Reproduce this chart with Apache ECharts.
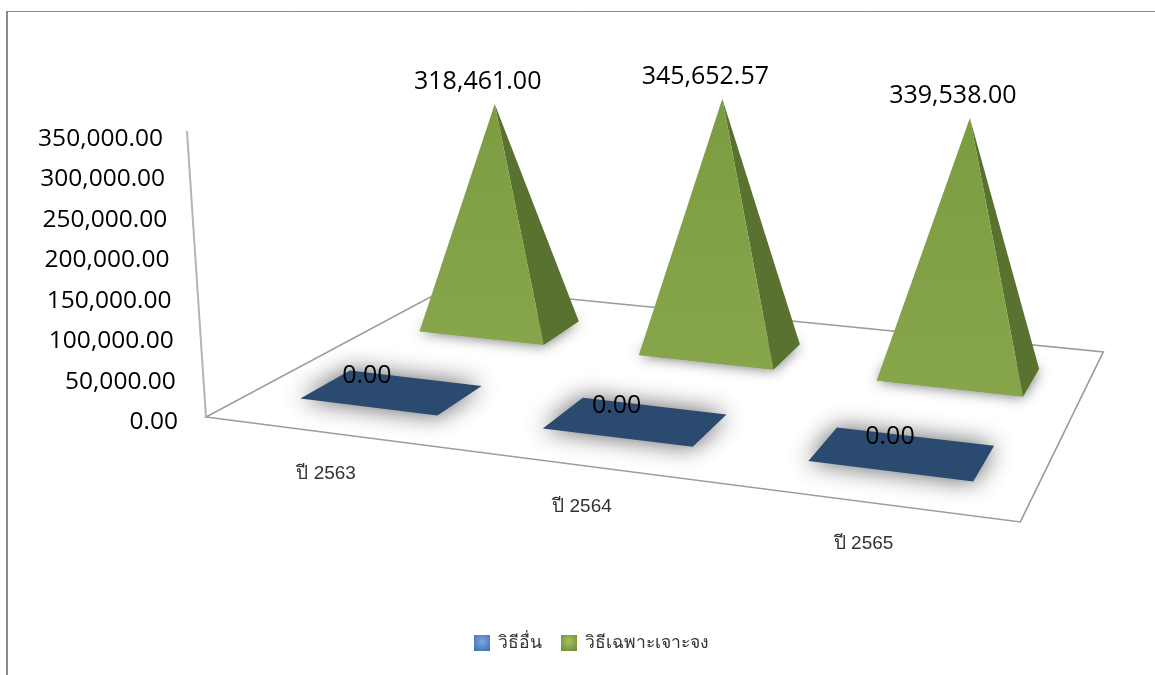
<!DOCTYPE html>
<html lang="th">
<head>
    <meta charset="UTF-8">
    <title>กราฟ</title>
    <style>
        html, body {margin: 0; padding: 0; background: #fff;}
        #main {width: 1155px; height: 675px;}
    </style>
</head>
<body>
<div id="main"></div>

<script src="https://cdn.jsdelivr.net/npm/echarts@6/dist/echarts.min.js"></script>
<script>
    var categories = ['ปี 2563', 'ปี 2564', 'ปี 2565'];
    var otherValues = [0, 0, 0];
    var specificValues = [318461, 345652.57, 339538];
    var yTicks = [0, 50000, 100000, 150000, 200000, 250000, 300000, 350000];
    var seriesNames = ['วิธีอื่น', 'วิธีเฉพาะเจาะจง'];

    var FONT = '"Open Sans", "Noto Sans", sans-serif';

    // พื้นกราฟแบบ perspective (u = แกน x, v = ความลึก)
    var floor = {a: 676.4, b: 360.6, c: 206, d: 34.4, e: -54.9, f: 417, g: -0.1352, h: 0.2618};

    function project(u, v, height) {
        var w = 1 + floor.g * u + floor.h * v;
        var x = (floor.a * u + floor.b * v + floor.c) / w;
        var y = (floor.d * u + floor.e * v + floor.f) / w;
        var up = (height || 0) / w;
        // เส้นแนวตั้งลู่เข้าหาจุดเดียวด้านล่าง
        return [x + (x - 662) * up / 6849, y - up];
    }

    function money(v) {
        return v.toLocaleString('en-US', {minimumFractionDigits: 2, maximumFractionDigits: 2});
    }

    function pyramidItem(opt, params, api) {
        var sys = params.coordSys;
        var base = api.coord([api.value(0), 0]);
        var top = api.coord([api.value(0), api.value(1)]);
        var u = (base[0] - sys.x) / sys.width;
        var height = base[1] - top[1];

        var left = project(u - opt.halfU, opt.depth - opt.halfV);
        var front = project(u + opt.halfU, opt.depth - opt.halfV);
        var right = project(u + opt.halfU, opt.depth + opt.halfV);
        var back = project(u - opt.halfU, opt.depth + opt.halfV);
        var apex = project(u, opt.depth, height);
        var children = [{
            type: 'polygon',
            shape: {points: [left, front, right, back]},
            style: {fill: opt.color, shadowBlur: opt.blur, shadowColor: opt.shadow}
        }];
        if (height > 0) {
            children.push({
                type: 'polygon',
                shape: {points: [apex, front, right]},
                style: {fill: '#5a7230'}
            });
            children.push({
                type: 'polygon',
                shape: {points: [apex, left, front]},
                style: {
                    fill: new echarts.graphic.LinearGradient(0, 0, 0, 1, [
                        {offset: 0, color: '#7c9c42'},
                        {offset: 1, color: '#87a64b'}
                    ])
                }
            });
        }
        children.push({
            type: 'text',
            style: {
                text: money(api.value(1)),
                x: apex[0] + opt.labelX + apex[0] * opt.labelSlope,
                y: apex[1] + opt.labelY,
                fill: '#000',
                fontSize: 25,
                fontFamily: FONT,
                align: 'center',
                verticalAlign: 'middle'
            }
        });
        return {type: 'group', children: children};
    }

    function frameItem(params, api) {
        var sys = params.coordSys;
        var corner = project(0, 0);
        var axisTop = project(0, 0, sys.height);
        return {
            type: 'group',
            children: [{
                type: 'polygon',
                shape: {points: [project(0, 0), project(1, 0), project(1, 1), project(0, 1)]},
                style: {fill: '#fff', stroke: '#9c9c9c', lineWidth: 1.6}
            }, {
                type: 'line',
                shape: {x1: corner[0], y1: corner[1], x2: axisTop[0], y2: axisTop[1]},
                style: {stroke: '#b4b4b4', lineWidth: 2}
            }]
        };
    }

    function yLabelItem(params, api) {
        var sys = params.coordSys;
        var zero = api.coord([0, 0]);
        var pos = api.coord([0, api.value(1)]);
        var rise = (zero[1] - pos[1]) / sys.height;
        var p = project(0, 0, zero[1] - pos[1]);
        return {
            type: 'text',
            style: {
                text: money(api.value(1)),
                x: p[0] - 28 + 4 * rise,
                y: pos[1] + 4 + 3 * rise,
                fill: '#000',
                fontSize: 24.5,
                fontFamily: FONT,
                align: 'right',
                verticalAlign: 'middle'
            }
        };
    }

    function xLabelItem(params, api) {
        var sys = params.coordSys;
        var base = api.coord([api.value(0), 0]);
        var u = (base[0] - sys.x) / sys.width;
        var p = project(0.56 + (u - 0.5) * 0.935, -0.17);
        return {
            type: 'text',
            style: {
                text: categories[api.value(0)],
                x: p[0] - 13,
                y: p[1] + 2.5 - 4.5 * u,
                fill: '#333',
                fontSize: 19,
                fontFamily: '"Liberation Sans", sans-serif',
                align: 'center',
                verticalAlign: 'middle'
            }
        };
    }

    function rows(values) {
        return values.map(function (v, i) {
            return [i, v];
        });
    }

    var chart = echarts.init(document.getElementById('main'));
    chart.setOption({
        animation: false,
        backgroundColor: '#fff',
        grid: {left: 207, width: 814, top: 132, height: 286},
        xAxis: {type: 'category', data: categories, show: false},
        yAxis: {type: 'value', min: 0, max: 350000, interval: 50000, show: false},
        legend: {
            left: 474,
            top: 634,
            padding: 0,
            itemWidth: 16,
            itemHeight: 16,
            itemGap: 19,
            selectedMode: false,
            textStyle: {fontSize: 17.5, color: '#333', fontFamily: FONT, padding: [8, 0, 0, 3]},
            data: [{
                name: seriesNames[0], icon: 'rect',
                itemStyle: {color: new echarts.graphic.RadialGradient(0.5, 0.4, 0.7, [
                    {offset: 0, color: '#7aa7dd'}, {offset: 1, color: '#3f74b2'}])}
            }, {
                name: seriesNames[1], icon: 'rect',
                itemStyle: {color: new echarts.graphic.RadialGradient(0.5, 0.4, 0.7, [
                    {offset: 0, color: '#a6c25e'}, {offset: 1, color: '#6f8c38'}])}
            }]
        },
        graphic: [
            {type: 'line', shape: {x1: 6, y1: 11.5, x2: 1155, y2: 11.5}, style: {stroke: '#8a8a8a', lineWidth: 1}},
            {type: 'line', shape: {x1: 7, y1: 11, x2: 7, y2: 675}, style: {stroke: '#8a8a8a', lineWidth: 2}}
        ],
        series: [{
            type: 'custom', name: 'frame', silent: true, data: [[0, 0]],
            renderItem: frameItem
        }, {
            type: 'custom', name: 'yLabels', silent: true, data: yTicks.map(function (t) {
                return [0, t];
            }),
            renderItem: yLabelItem
        }, {
            type: 'custom', name: 'xLabels', silent: true, data: rows(otherValues),
            renderItem: xLabelItem
        }, {
            type: 'custom', name: seriesNames[1], silent: true, data: rows(specificValues),
            itemStyle: {color: '#7c9c42'},
            renderItem: function (params, api) {
                return pyramidItem({
                    depth: 0.74, halfU: 0.096, halfV: 0.095, color: '#7c9c42',
                    blur: 14, shadow: 'rgba(40,40,40,0.7)', labelX: -17, labelSlope: 0, labelY: -22
                }, params, api);
            }
        }, {
            type: 'custom', name: seriesNames[0], silent: true, data: rows(otherValues),
            itemStyle: {color: '#2a4a6f'},
            renderItem: function (params, api) {
                return pyramidItem({
                    depth: 0.25, halfU: 0.096, halfV: 0.095, color: '#2a4a6f',
                    blur: 24, shadow: 'rgba(40,40,40,0.75)', labelX: -35, labelSlope: 0.025, labelY: -16
                }, params, api);
            }
        }]
    });
</script>
</body>
</html>
